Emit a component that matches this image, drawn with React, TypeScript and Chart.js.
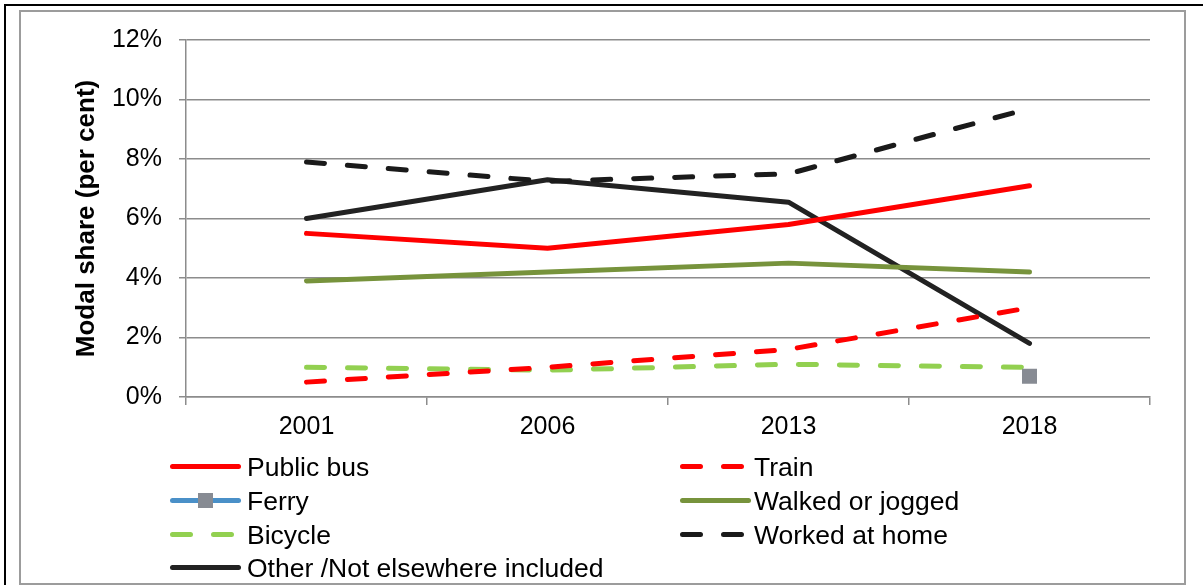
import React, { useEffect, useRef } from 'react';
import { Chart, registerables } from 'chart.js';

Chart.register(...registerables);

const categories = ['2001', '2006', '2013', '2018'];
const seriesNames = [
  'Public bus',
  'Train',
  'Ferry',
  'Walked or jogged',
  'Bicycle',
  'Worked at home',
  'Other /Not elsewhere included',
];
const publicBus = [5.5, 5.0, 5.8, 7.1];
const train = [0.5, 1.0, 1.6, 3.0];
const ferry = [null, null, null, 0.7];
const walked = [3.9, 4.2, 4.5, 4.2];
const bicycle = [1.0, 0.9, 1.1, 1.0];
const workedAtHome = [7.9, 7.25, 7.5, 9.7];
const other = [6.0, 7.3, 6.55, 1.8];
const yMin = 0;
const yMax = 12;
const yStep = 2;

const FONT = "'Liberation Sans', Arial, sans-serif";
const GRID = '#8c8c8c';
const DASH = [18, 23];

const legendPlugin = {
  id: 'customLegend',
  afterDraw(chart: any) {
    const ctx = chart.ctx;
    const cols = [
      { x: 170, tx: 247 },
      { x: 680, tx: 754 },
    ];
    const rows = [466.5, 500.5, 534.5, 567.5];
    chart.data.datasets.forEach((ds: any, i: number) => {
      const col = cols[i % 2];
      const y = rows[Math.floor(i / 2)];
      ctx.save();
      ctx.strokeStyle = ds.borderColor;
      ctx.lineWidth = 5;
      ctx.lineCap = 'round';
      const dashed = ds.borderDash && ds.borderDash.length;
      ctx.setLineDash(dashed ? ds.borderDash : []);
      ctx.beginPath();
      ctx.moveTo(col.x + 2.5, y);
      ctx.lineTo(col.x + 2.5 + (dashed ? ds.borderDash[0] * 2 + ds.borderDash[1] : 66), y);
      ctx.stroke();
      ctx.setLineDash([]);
      if (ds.pointRadius > 0) {
        ctx.fillStyle = ds.pointBackgroundColor;
        ctx.fillRect(col.x + 35.5 - 7.5, y - 7.5, 15, 15);
      }
      ctx.fillStyle = '#000';
      ctx.font = `26.5px ${FONT}`;
      ctx.textBaseline = 'alphabetic';
      ctx.textAlign = 'left';
      ctx.fillText(ds.label, col.tx, y + 9.3);
      ctx.restore();
    });
  },
};

export default function App() {
  const ref = useRef<HTMLCanvasElement>(null);
  useEffect(() => {
    if (!ref.current) return;
    const base = { pointRadius: 0, borderWidth: 5, borderCapStyle: 'round', borderJoinStyle: 'round', tension: 0, fill: false };
    const chart = new Chart(ref.current, {
      type: 'line',
      data: {
        labels: categories,
        datasets: [
          { ...base, label: seriesNames[0], data: publicBus, borderColor: '#ff0000' },
          { ...base, label: seriesNames[1], data: train, borderColor: '#ff0000', borderDash: DASH },
          {
            ...base,
            label: seriesNames[2],
            data: ferry,
            borderColor: '#4a90c8',
            pointRadius: 10.6,
            pointStyle: 'rect',
            pointBackgroundColor: '#878b93',
            pointBorderWidth: 0,
          },
          { ...base, label: seriesNames[3], data: walked, borderColor: '#77933c' },
          { ...base, label: seriesNames[4], data: bicycle, borderColor: '#92d050', borderDash: DASH },
          { ...base, label: seriesNames[5], data: workedAtHome, borderColor: '#1a1a1a', borderDash: DASH },
          { ...base, label: seriesNames[6], data: other, borderColor: '#222222' },
        ] as any,
      },
      options: {
        responsive: false,
        animation: false,
        events: [],
        layout: { padding: { left: 71.5, top: 40, right: 53, bottom: 138 } },
        plugins: { legend: { display: false }, tooltip: { enabled: false }, title: { display: false } },
        scales: {
          x: {
            offset: true,
            grid: { offset: true, drawOnChartArea: false, drawTicks: true, tickLength: 8, color: GRID, lineWidth: 1.5 },
            border: { display: true, color: GRID, width: 1.5 },
            ticks: { color: '#000', font: { family: FONT, size: 25 }, padding: 7.5, maxRotation: 0 },
            afterFit: (s: any) => {
              s.height = 50;
            },
          },
          y: {
            min: yMin,
            max: yMax,
            ticks: {
              stepSize: yStep,
              color: '#000',
              font: { family: FONT, size: 25 },
              padding: 17,
              callback: (v: any) => `${v}%`,
            },
            grid: { color: GRID, lineWidth: 1.5, tickLength: 7, drawTicks: true },
            border: { display: true, color: GRID, width: 1.5 },
            title: {
              display: true,
              text: 'Modal share (per cent)',
              color: '#000',
              font: { family: FONT, size: 26, weight: 'bold' },
              padding: 0,
            },
            afterFit: (s: any) => {
              s.width = 114.5;
            },
          },
        },
      } as any,
      plugins: [legendPlugin],
    });
    return () => chart.destroy();
  }, []);

  return (
    <div style={{ position: 'absolute', left: 0, top: 0, width: 1203, height: 585, overflow: 'hidden', background: '#fff' }}>
      <div style={{ position: 'absolute', left: 4, top: 4, width: 1400, height: 800, border: '2.5px solid #000', boxSizing: 'border-box' }} />
      <div style={{ position: 'absolute', left: 19, top: 10, width: 1167, height: 575, border: '2px solid #9c9c9c', boxSizing: 'border-box' }} />
      <canvas ref={ref} width={1203} height={585} style={{ position: 'absolute', left: 0, top: 0 }} />
    </div>
  );
}
